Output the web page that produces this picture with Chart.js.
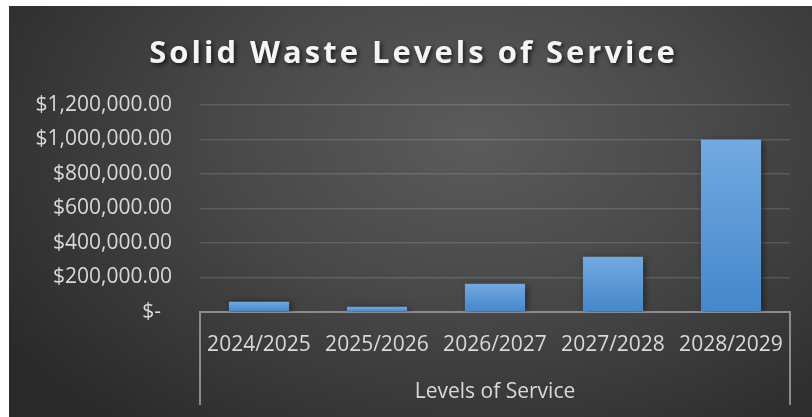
<!DOCTYPE html>
<html>
<head>
<meta charset="utf-8">
<script src="https://cdn.jsdelivr.net/npm/chart.js@4"></script>
<style>
  html, body { margin: 0; padding: 0; background: #fff; }
  #wrap {
    position: absolute; left: 9px; top: 6px; width: 803px; height: 411px;
    background: radial-gradient(ellipse 70% 90% at 58% 32%, #5b5b5b 0%, #484848 45%, #2a2a2a 100%);
  }
</style>
</head>
<body>
<div id="wrap"><canvas id="waste-chart"></canvas></div>
<script>
// Chart values
const years = ["2024/2025", "2025/2026", "2026/2027", "2027/2028", "2028/2029"];
const serviceCost = [60000, 30000, 164000, 320000, 1000000];
const yTicks = [0, 200000, 400000, 600000, 800000, 1000000, 1200000];
const chartTitle = "Solid Waste Levels of Service";
const xTitle = "Levels of Service";

let fontName = "'Open Sans', 'Noto Sans', sans-serif";
let lineGray = '#8c8c8c';

function money(v) {
    if (v === 0) return '$-  ';
    return '$' + v.toLocaleString('en-US', { minimumFractionDigits: 2, maximumFractionDigits: 2 });
}

// per-bar vertical gradient, light at top
function barFill(ctx) {
    let chart = ctx.chart;
    if (!chart.chartArea || ctx.parsed == null) return '#5b9bd5';
    let y = chart.scales.y;
    let top = y.getPixelForValue(ctx.parsed.y);
    let bottom = y.getPixelForValue(0);
    if (bottom - top < 1) top = bottom - 1;
    let g = chart.ctx.createLinearGradient(0, top, 0, bottom);
    g.addColorStop(0, '#72a9e0');
    g.addColorStop(1, '#4487cb');
    return g;
}

// title drawn with spacing + shadow
const titlePlugin = {
    id: 'bigTitle',
    afterDraw(chart) {
        let c = chart.ctx;
        c.save();
        c.font = "bold 31px " + fontName;
        c.letterSpacing = '3px';
        c.textAlign = 'center';
        c.textBaseline = 'alphabetic';
        c.shadowColor = 'rgba(0,0,0,0.65)';
        c.shadowBlur = 4;
        c.shadowOffsetX = 2;
        c.shadowOffsetY = 2;
        c.fillStyle = '#f4f4f4';
        c.fillText(chartTitle, chart.width / 2 + 3, 57);
        c.restore();
    }
};

// soft shadow under the bars
const barShadow = {
    id: 'barShadow',
    beforeDatasetsDraw(chart) {
        let c = chart.ctx;
        c.save();
        c.shadowColor = 'rgba(0,0,0,0.55)';
        c.shadowBlur = 7;
        c.shadowOffsetX = 2;
        c.shadowOffsetY = 1;
    },
    afterDatasetsDraw(chart) {
        chart.ctx.restore();
    }
};

let wasteChart = new Chart(document.getElementById('waste-chart'), {
    type: 'bar',
    data: {
        labels: years,
        datasets: [{
            data: serviceCost,
            backgroundColor: barFill,
            borderWidth: 0,
            barPercentage: 0.51,
            categoryPercentage: 1
        }]
    },
    options: {
        responsive: true,
        maintainAspectRatio: false,
        animation: false,
        layout: {
            padding: { top: 99, right: 22, bottom: 0, left: 0 }
        },
        plugins: {
            legend: { display: false },
            tooltip: { enabled: false }
        },
        scales: {
            x: {
                offset: true,
                afterFit(scale) { scale.height = 105; },
                border: { display: true, color: lineGray, width: 2 },
                grid: {
                    drawOnChartArea: false,
                    drawTicks: true,
                    tickLength: 93,
                    offset: true,
                    lineWidth: 2,
                    color: (ctx) => (ctx.type !== 'tick' || ctx.index === 0) ? lineGray : 'rgba(0,0,0,0)'
                },
                ticks: {
                    color: '#d9d9d9',
                    padding: -73,
                    maxRotation: 0,
                    font: { family: fontName, size: 21 }
                },
                title: {
                    display: true,
                    text: xTitle,
                    color: '#d9d9d9',
                    padding: { top: 0, bottom: 12 },
                    font: { family: fontName, size: 21 }
                }
            },
            y: {
                min: 0,
                max: 1200000,
                afterFit(scale) { scale.width = 191; },
                afterBuildTicks(scale) { scale.ticks = yTicks.map(v => ({ value: v })); },
                border: { display: false },
                grid: {
                    drawTicks: false,
                    color: 'rgba(255,255,255,0.13)',
                    lineWidth: 1.5
                },
                ticks: {
                    color: '#d9d9d9',
                    padding: 28,
                    font: { family: fontName, size: 21 },
                    callback: (v) => money(v)
                }
            }
        }
    },
    plugins: [barShadow, titlePlugin]
});
</script>
</body>
</html>
